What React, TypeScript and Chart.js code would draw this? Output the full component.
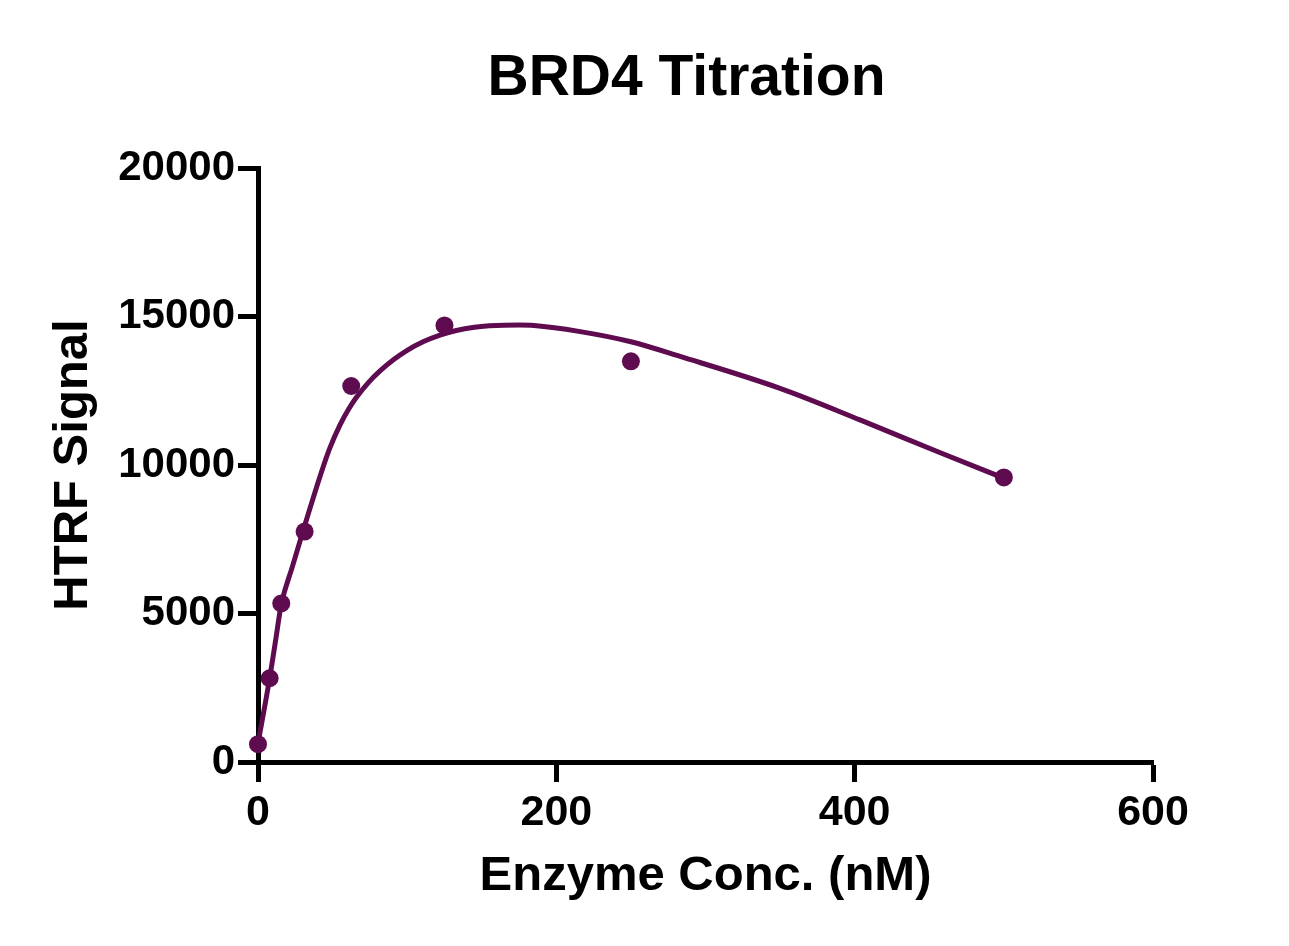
import React, { useEffect, useRef } from "react";
import { Chart, registerables } from "chart.js";

Chart.register(...registerables);

const chartTitle = "BRD4 Titration";
const xTitle = "Enzyme Conc. (nM)";
const yTitle = "HTRF Signal";

const concentrations = [0, 7.8, 15.6, 31.25, 62.5, 125, 250, 500];
const signals = [600, 2820, 5340, 7760, 12660, 14700, 13490, 9580];

const fitConc = [0, 7.8, 11.7, 15.6, 23, 31, 42, 48, 55, 61, 66, 74, 82, 91, 100, 111, 122, 133, 145, 155, 165, 175, 185, 215, 250, 283, 350, 404, 457, 500];
const fitSignal = [630, 2818, 4060, 5300, 6570, 7910, 9680, 10550, 11350, 11900, 12280, 12775, 13175, 13550, 13860, 14155, 14375, 14530, 14638, 14688, 14708, 14710, 14695, 14500, 14150, 13655, 12580, 11510, 10420, 9560];

const xTicks = [0, 200, 400, 600];
const yTicks = [0, 5000, 10000, 15000, 20000];

const PURPLE = "#5e0b4f";
const FONT = '"Liberation Sans", Arial, Helvetica, sans-serif';

const titlePlugin = {
  id: "customTitle",
  afterDraw(chart: any) {
    const { ctx, chartArea } = chart;
    ctx.save();
    ctx.font = `bold 57px ${FONT}`;
    ctx.fillStyle = "#000";
    ctx.textAlign = "center";
    ctx.textBaseline = "alphabetic";
    ctx.fillText(chartTitle, (chartArea.left + chartArea.right) / 2 - 19, chartArea.top - 73);
    ctx.restore();
  },
};

export default function App() {
  const ref = useRef<HTMLCanvasElement | null>(null);

  useEffect(() => {
    if (!ref.current) return;
    Chart.defaults.font.family = FONT;
    const chart = new Chart(ref.current, {
      type: "scatter",
      data: {
        datasets: [
          {
            label: "data",
            data: concentrations.map((x, i) => ({ x, y: signals[i] })),
            showLine: false,
            pointRadius: 9,
            pointHoverRadius: 9,
            pointBackgroundColor: PURPLE,
            pointBorderColor: PURPLE,
            pointBorderWidth: 0,
            clip: false as any,
            order: 0,
          },
          {
            label: "fit",
            data: fitConc.map((x, i) => ({ x, y: fitSignal[i] })),
            showLine: true,
            pointRadius: 0,
            borderColor: PURPLE,
            borderWidth: 5,
            cubicInterpolationMode: "monotone",
            clip: false as any,
            order: 1,
          },
        ],
      },
      options: {
        responsive: false,
        animation: false,
        layout: { padding: { left: 0, top: 168, right: 136, bottom: 0 } },
        plugins: {
          legend: { display: false },
          title: { display: false },
          tooltip: { enabled: false },
        },
        scales: {
          x: {
            type: "linear",
            min: 0,
            max: 600,
            afterBuildTicks: (s: any) => {
              s.ticks = xTicks.map((v) => ({ value: v }));
            },
            afterFit: (s: any) => {
              s.height = 184;
            },
            ticks: {
              color: "#000",
              font: { size: 43, weight: "bold" },
              padding: 5,
              maxRotation: 0,
              callback: (v: any) => String(v),
            },
            grid: {
              display: true,
              drawOnChartArea: false,
              drawTicks: true,
              tickLength: 20,
              tickWidth: 5,
              tickColor: "#000",
            },
            border: { display: true, width: 5, color: "#000" },
            title: {
              display: true,
              text: xTitle,
              color: "#000",
              font: { size: 49, weight: "bold" },
              padding: { top: 0, bottom: 40 },
            },
          },
          y: {
            type: "linear",
            min: 0,
            max: 20000,
            afterBuildTicks: (s: any) => {
              s.ticks = yTicks.map((v) => ({ value: v }));
            },
            afterFit: (s: any) => {
              s.width = 258;
            },
            ticks: {
              color: "#000",
              font: { size: 42, weight: "bold" },
              padding: 3,
              callback: (v: any) => String(v),
            },
            grid: {
              display: true,
              drawOnChartArea: false,
              drawTicks: true,
              tickLength: 20,
              tickWidth: 5,
              tickColor: "#000",
            },
            border: { display: true, width: 5, color: "#000" },
            title: {
              display: true,
              text: yTitle,
              color: "#000",
              font: { size: 49, weight: "bold" },
              padding: { top: 44, bottom: 0 },
            },
          },
        },
      },
      plugins: [titlePlugin],
    });
    return () => chart.destroy();
  }, []);

  return (
    <div style={{ position: "fixed", left: 0, top: 0, width: 1289, height: 946, background: "#fff" }}>
      <canvas ref={ref} width={1289} height={946} style={{ display: "block" }} />
    </div>
  );
}
